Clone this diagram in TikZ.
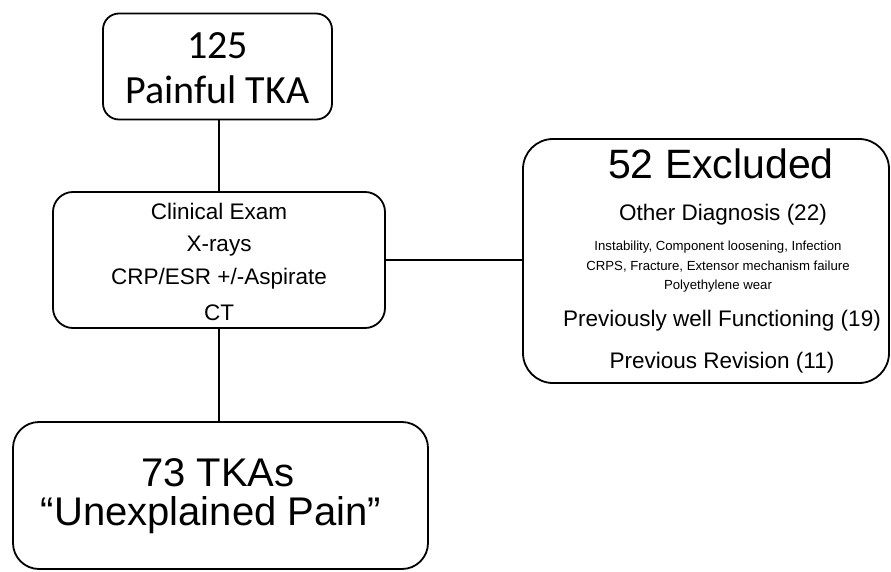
\documentclass[tikz,border=0pt]{standalone}
\usepackage{fontspec}
\setmainfont{Liberation Sans}
\newfontfamily\calib{Carlito}
\begin{document}
\begin{tikzpicture}[x=1pt,y=-1pt,
  box/.style={draw, line width=1.8pt, rounded corners=#1, inner sep=0pt},
  box/.default=18pt,
  txt/.style={inner sep=0pt, anchor=center},
  conn/.style={line width=1.8pt}]
\useasboundingbox (0,0) rectangle (891,572);
% boxes
\node[box=16pt, minimum width=229pt, minimum height=106pt] (b1) at (217.5,66.5) {};
\node[box=20pt, minimum width=332pt, minimum height=136pt] (b2) at (219,260) {};
\node[box=30pt, minimum width=366pt, minimum height=244pt] (b3) at (706,261) {};
\node[box=26pt, minimum width=415pt, minimum height=147pt] (b4) at (220.5,495.5) {};
% texts box1
\node[txt, font=\calib\fontsize{40}{44}\selectfont] (t1a) at (217.5,46) {125};
\node[txt, font=\calib\fontsize{40}{44}\selectfont] (t1b) at (217.5,90) {Painful TKA};
% texts box2
\node[txt, font=\fontsize{22.5}{26}\selectfont] (t2a) at (219,211) {Clinical Exam};
\node[txt, font=\fontsize{22.5}{26}\selectfont] (t2b) at (219,246) {X-rays};
\node[txt, font=\fontsize{22.5}{26}\selectfont] (t2c) at (219,279) {CRP/ESR +/-Aspirate};
\node[txt, font=\fontsize{22.5}{26}\selectfont] (t2d) at (219,313) {CT};
% texts box3
\node[txt, font=\fontsize{41}{44}\selectfont] (t3a) at (721,164) {52 Excluded};
\node[txt, font=\fontsize{22.5}{26}\selectfont] (t3b) at (723,215) {Other Diagnosis (22)};
\node[txt, font=\fontsize{13.2}{16}\selectfont] (t3c) at (718,247) {Instability, Component loosening, Infection};
\node[txt, font=\fontsize{13.2}{16}\selectfont] (t3d) at (718,267) {CRPS, Fracture, Extensor mechanism failure};
\node[txt, font=\fontsize{13.2}{16}\selectfont] (t3e) at (718,286) {Polyethylene wear};
\node[txt, font=\fontsize{22.5}{26}\selectfont] (t3f) at (722,321) {Previously well Functioning (19)};
\node[txt, font=\fontsize{22.5}{26}\selectfont] (t3g) at (722,363) {Previous Revision (11)};
% texts box4
\node[txt, font=\fontsize{40}{44}\selectfont] (t4a) at (218,473) {73 TKAs};
\node[txt, font=\fontsize{40}{44}\selectfont] (t4b) at (211,515) {``Unexplained Pain''};
% connectors
\draw[conn] (b2.north |- b1.south) -- (b2.north);
\draw[conn] (b2.east) -- (b2.east -| b3.west);
\draw[conn] (b2.south) -- (b2.south |- b4.north);
\end{tikzpicture}
\end{document}
